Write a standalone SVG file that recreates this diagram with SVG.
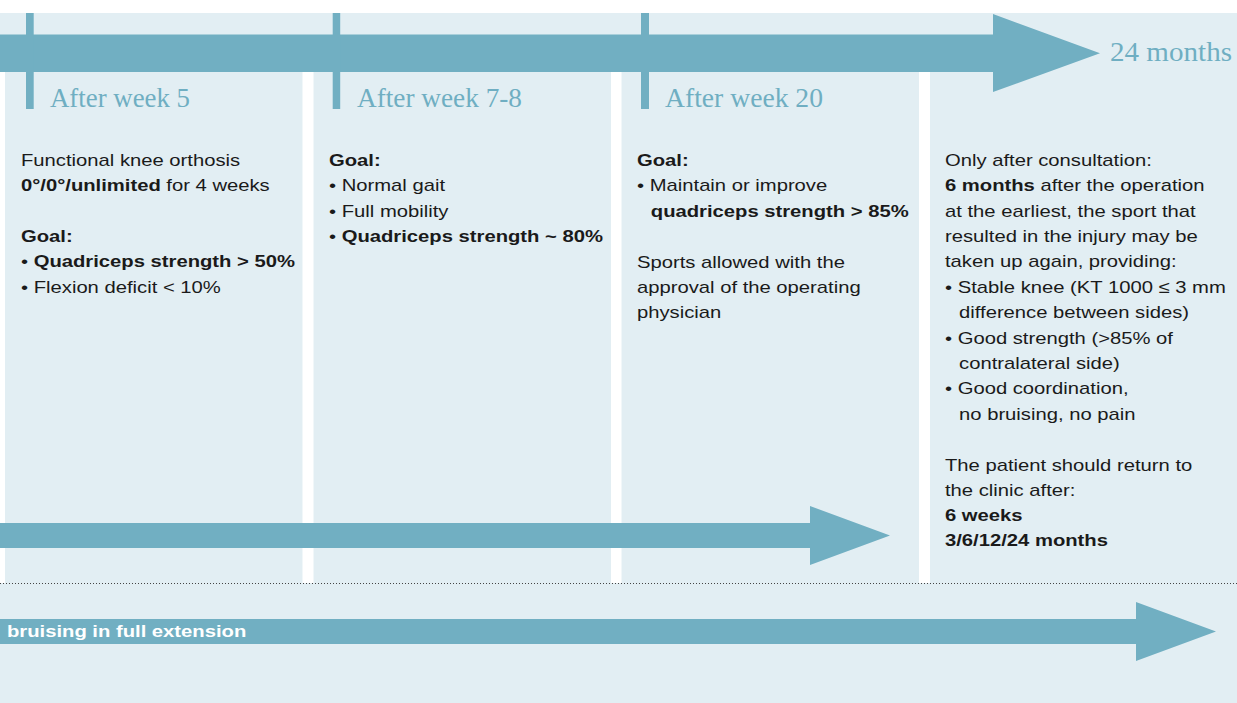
<svg xmlns="http://www.w3.org/2000/svg" width="1237" height="703" viewBox="0 0 1237 703">
<style>
.bg{fill:#E2EEF3}
.gap{fill:#FFFFFF}
.arr{fill:#71AFC2}
.lbl{font-family:"Liberation Serif","Times New Roman",serif;font-size:27px;fill:#6FAEC2}
.t{font-family:"Liberation Sans",Arial,sans-serif;font-size:17px;fill:#1A1A1A}
.b{font-weight:bold}
.w{fill:#FFFFFF;font-weight:bold}
</style>
<rect x="0" y="0" width="1237" height="703" fill="#FFFFFF"/>
<rect class="bg" x="0" y="13" width="1237" height="690"/>
<g id="gaps">
<rect class="gap" x="0" y="72" width="5" height="511"/>
<rect class="gap" x="302.5" y="72" width="11" height="511"/>
<rect class="gap" x="611" y="72" width="10.5" height="511"/>
<rect class="gap" x="919" y="72" width="11" height="511"/>
</g>
<line x1="0" y1="583.5" x2="1237" y2="583.5" stroke="#444" stroke-width="1.2" stroke-dasharray="1 2"/>
<g id="connectors">
<polygon class="arr" points="0,34.5 993,34.5 993,14 1100,53.2 993,92 993,72 0,72"/>
<polygon class="arr" points="0,523 810,523 810,506 890,535.5 810,565 810,548 0,548"/>
<polygon class="arr" points="0,619 1136,619 1136,602 1216,631.5 1136,661 1136,644 0,644"/>
<rect class="arr" x="26" y="13" width="7.7" height="96"/>
<rect class="arr" x="332.7" y="13" width="7.5" height="96"/>
<rect class="arr" x="641" y="13" width="8" height="96"/>
</g>
<g id="end-label">
<text class="lbl" x="1110" y="61" textLength="122" lengthAdjust="spacingAndGlyphs">24 months</text>
</g>
<g id="bottom-label" transform="translate(7 0) scale(1.19 1)">
<text class="t w" x="0" y="637">bruising in full extension</text>
</g>
<g id="col1">
<text class="lbl" x="50" y="106.5" textLength="140" lengthAdjust="spacingAndGlyphs">After week 5</text>
<g transform="translate(21 0) scale(1.19 1)">
<text class="t" x="0" y="166">Functional knee orthosis</text>
<text class="t" x="0" y="191.5"><tspan class="b">0°/0°/unlimited</tspan> for 4 weeks</text>
<text class="t b" x="0" y="242">Goal:</text>
<text class="t" x="0" y="267.5">• <tspan class="b">Quadriceps strength &gt; 50%</tspan></text>
<text class="t" x="0" y="293">• Flexion deficit &lt; 10%</text>
</g>
</g>
<g id="col2">
<text class="lbl" x="357" y="106.5" textLength="165" lengthAdjust="spacingAndGlyphs">After week 7-8</text>
<g transform="translate(329 0) scale(1.19 1)">
<text class="t b" x="0" y="166">Goal:</text>
<text class="t" x="0" y="191.5">• Normal gait</text>
<text class="t" x="0" y="217">• Full mobility</text>
<text class="t" x="0" y="242.5">• <tspan class="b">Quadriceps strength ~ 80%</tspan></text>
</g>
</g>
<g id="col3">
<text class="lbl" x="665" y="106.5" textLength="158" lengthAdjust="spacingAndGlyphs">After week 20</text>
<g transform="translate(637 0) scale(1.19 1)">
<text class="t b" x="0" y="166">Goal:</text>
<text class="t" x="0" y="191.5">• Maintain or improve</text>
<text class="t b" x="11.6" y="217">quadriceps strength &gt; 85%</text>
<text class="t" x="0" y="268">Sports allowed with the</text>
<text class="t" x="0" y="293">approval of the operating</text>
<text class="t" x="0" y="318.5">physician</text>
</g>
</g>
<g id="col4">
<g transform="translate(945 0) scale(1.19 1)">
<text class="t" x="0" y="166">Only after consultation:</text>
<text class="t" x="0" y="191.5"><tspan class="b">6 months</tspan> after the operation</text>
<text class="t" x="0" y="217">at the earliest, the sport that</text>
<text class="t" x="0" y="242">resulted in the injury may be</text>
<text class="t" x="0" y="267.5">taken up again, providing:</text>
<text class="t" x="0" y="293">• Stable knee (KT 1000 ≤ 3 mm</text>
<text class="t" x="11.8" y="318">difference between sides)</text>
<text class="t" x="0" y="344">• Good strength (&gt;85% of</text>
<text class="t" x="11.8" y="369">contralateral side)</text>
<text class="t" x="0" y="394.5">• Good coordination,</text>
<text class="t" x="11.8" y="420">no bruising, no pain</text>
<text class="t" x="0" y="471">The patient should return to</text>
<text class="t" x="0" y="496.5">the clinic after:</text>
<text class="t b" x="0" y="521">6 weeks</text>
<text class="t b" x="0" y="546.5">3/6/12/24 months</text>
</g>
</g>
</svg>
